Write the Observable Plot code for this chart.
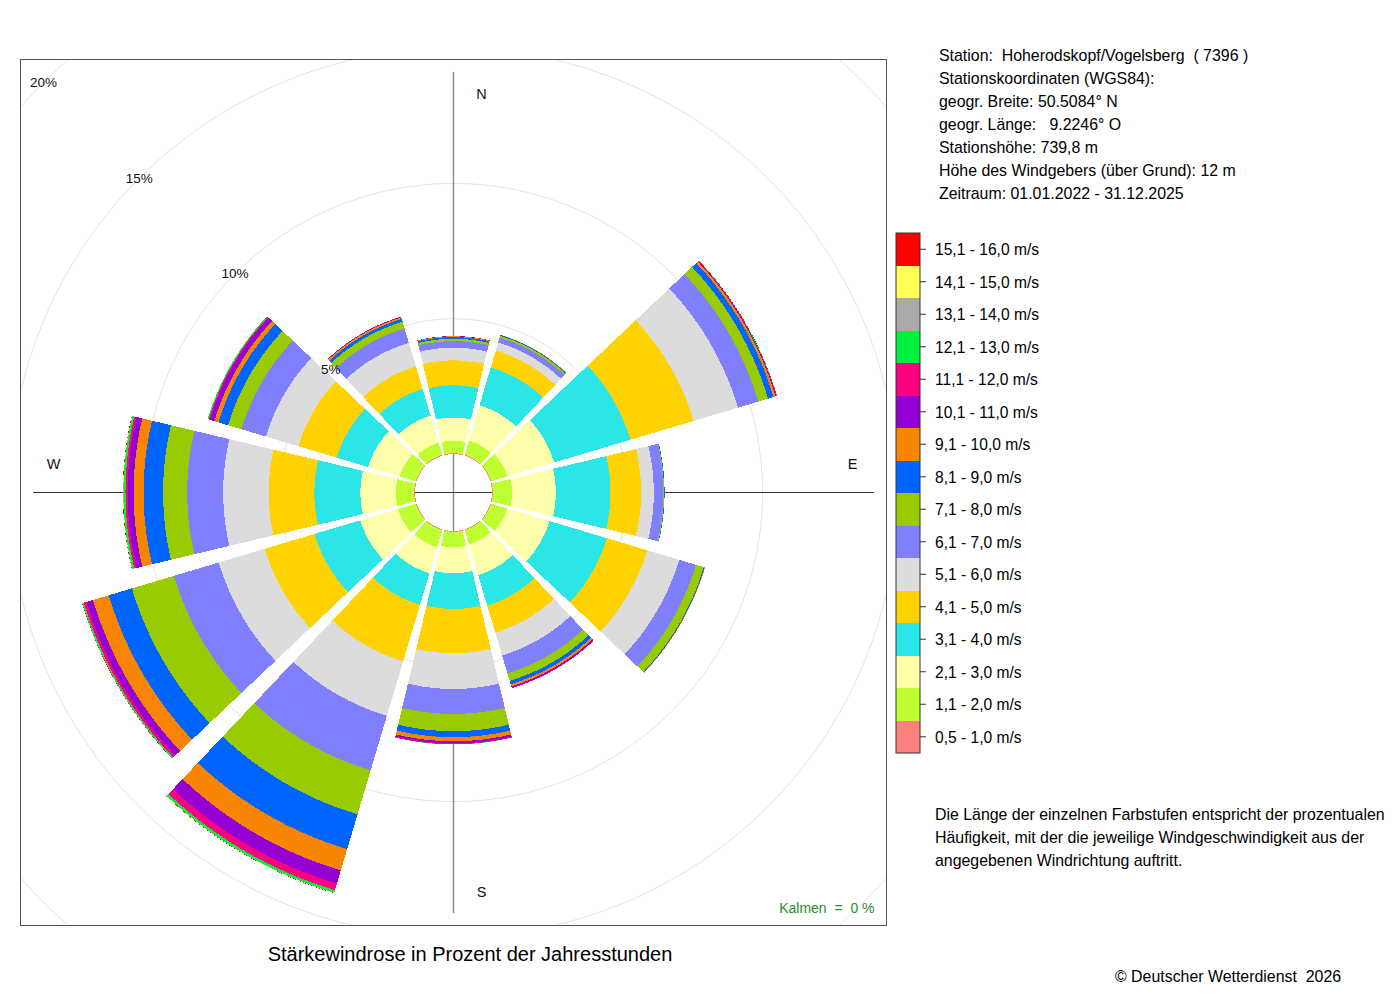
<!DOCTYPE html>
<html>
<head>
<meta charset="utf-8">
<script src="https://cdn.jsdelivr.net/npm/d3@7"></script>
<script src="https://cdn.jsdelivr.net/npm/@observablehq/plot@0.6"></script>
<style>
  body { margin: 0; background: #fff; font-family: "Liberation Sans", Arial, sans-serif; color: #000; }
  #wrap { position: relative; width: 1400px; height: 1000px; overflow: hidden; }
  #chart { position: absolute; left: 19px; top: 58px; }
  .info { position: absolute; left: 939px; top: 44px; font-size: 15.9px; line-height: 23px; white-space: pre; }
  #legend { position: absolute; left: 890px; top: 225.5px; }
  .note { position: absolute; left: 935px; top: 803px; font-size: 15.9px; line-height: 23px; white-space: pre; }
  .caption { position: absolute; left: 0; width: 940px; top: 943px; line-height: 23px; text-align: center; font-size: 20px; }
  .copy { position: absolute; left: 1115px; top: 967px; line-height: 20px; font-size: 15.9px; white-space: pre; }
</style>
</head>
<body>
<div id="wrap">
  <div id="chart"></div>
  <div class="info">Station:  Hoherodskopf/Vogelsberg  ( 7396 )
Stationskoordinaten (WGS84):
geogr. Breite: 50.5084° N
geogr. Länge:   9.2246° O
Stationshöhe: 739,8 m
Höhe des Windgebers (über Grund): 12 m
Zeitraum: 01.01.2022 - 31.12.2025</div>
  <div id="legend"></div>
  <div class="note">Die Länge der einzelnen Farbstufen entspricht der prozentualen
Häufigkeit, mit der die jeweilige Windgeschwindigkeit aus der
angegebenen Windrichtung auftritt.</div>
  <div class="caption">Stärkewindrose in Prozent der Jahresstunden</div>
  <div class="copy">© Deutscher Wetterdienst  2026</div>
</div>
<script>
// ---- data ----
const directions = [0, 30, 60, 90, 120, 150, 180, 210, 240, 270, 300, 330];
const directionLabels = ["N", "E", "S", "W"];
const speedClasses = [
  "0,5 - 1,0 m/s", "1,1 - 2,0 m/s", "2,1 - 3,0 m/s", "3,1 - 4,0 m/s",
  "4,1 - 5,0 m/s", "5,1 - 6,0 m/s", "6,1 - 7,0 m/s", "7,1 - 8,0 m/s",
  "8,1 - 9,0 m/s", "9,1 - 10,0 m/s", "10,1 - 11,0 m/s", "11,1 - 12,0 m/s",
  "12,1 - 13,0 m/s", "13,1 - 14,0 m/s", "14,1 - 15,0 m/s", "15,1 - 16,0 m/s"
];
const speedColors = [
  "#FF8080", "#BEFF32", "#FFFFAA", "#2AE6E6", "#FFD200", "#DCDCDC", "#8080FF", "#99CC00",
  "#0064FF", "#F78500", "#9400D3", "#FF0080", "#00F040", "#AAAAAA", "#FFFF55", "#FF0000"
];
// percentage of hours per speed class (lowest class first), one array per direction sector
const sector000 = [0.03, 0.46, 0.86, 1.19, 0.92, 0.47, 0.24, 0.09, 0.06, 0.03, 0.01, 0, 0, 0, 0, 0];
const sector030 = [0.03, 0.55, 1.36, 1.46, 0.65, 0.31, 0.19, 0.07, 0.03, 0.01, 0, 0, 0, 0, 0, 0];
const sector060 = [0.03, 0.62, 1.81, 2.94, 2.44, 1.71, 0.78, 0.38, 0.21, 0.08, 0.02, 0.02, 0.01, 0, 0, 0.01];
const sector090 = [0.03, 0.71, 1.62, 2.02, 1.13, 0.47, 0.35, 0.03, 0.02, 0, 0, 0, 0, 0, 0, 0];
const sector120 = [0.03, 0.62, 1.63, 2.21, 1.56, 1.23, 0.65, 0.30, 0.03, 0.02, 0, 0, 0, 0, 0, 0];
const sector150 = [0.03, 0.55, 1.18, 1.18, 1.04, 0.88, 0.69, 0.29, 0.13, 0.08, 0.05, 0.02, 0, 0, 0, 0];
const sector180 = [0.03, 0.57, 0.96, 1.32, 1.64, 1.32, 0.92, 0.64, 0.22, 0.15, 0.08, 0.03, 0.01, 0, 0, 0];
const sector210 = [0.03, 0.66, 1.00, 1.22, 2.18, 2.10, 2.10, 1.70, 1.34, 0.82, 0.51, 0.25, 0.09, 0.01, 0.01, 0.01];
const sector240 = [0.03, 0.69, 1.45, 1.77, 1.92, 1.77, 1.73, 1.62, 0.89, 0.61, 0.25, 0.10, 0.05, 0.01, 0, 0.01];
const sector270 = [0.03, 0.68, 1.31, 1.70, 1.69, 1.68, 1.33, 0.89, 0.72, 0.37, 0.22, 0.08, 0.07, 0.01, 0.01, 0.01];
const sector300 = [0.03, 0.62, 1.22, 1.21, 1.48, 1.25, 0.94, 0.52, 0.37, 0.16, 0.17, 0.05, 0.04, 0, 0, 0];
const sector330 = [0.03, 0.47, 1.04, 1.03, 0.87, 0.91, 0.55, 0.26, 0.11, 0.06, 0.02, 0.01, 0, 0, 0, 0];
const gridPercents = [5, 10, 15, 20];
const calmPercent = 0;

// ---- geometry helpers (polar via azimuthal-equidistant projection around the pole) ----
const sectorValues = [sector000, sector030, sector060, sector090, sector120, sector150,
                      sector180, sector210, sector240, sector270, sector300, sector330];
const HOLE = 1.42;        // radial offset of 0 % (inner hole)
const HALF = 13.4;        // half angular width of a sector, degrees
const FRAME_R = 16;       // radial units from centre to frame edge
const AXIS_R = 15.52;     // length of the cross lines
const lon = bearing => 180 - bearing;
const lat = r => 90 - r;

function wedge(bearing, r0, r1) {
  const n = 48, pts = [];
  for (let j = 0; j <= n; j++) { const a = bearing - HALF + 2 * HALF * j / n; pts.push([lon(a), lat(r1)]); }
  for (let j = n; j >= 0; j--) { const a = bearing - HALF + 2 * HALF * j / n; pts.push([lon(a), lat(r0)]); }
  pts.push(pts[0]);
  let g = {type: "Polygon", coordinates: [pts]};
  if (d3.geoArea(g) > 2 * Math.PI) g = {type: "Polygon", coordinates: [pts.slice().reverse()]};
  return g;
}

const bands = [];
directions.forEach((dir, i) => {
  let cum = 0;
  sectorValues[i].forEach((v, k) => {
    if (v > 0) {
      bands.push({dir, cls: speedClasses[k], geometry: wedge(dir, HOLE + cum, HOLE + cum + v)});
      cum += v;
    }
  });
});

const axes = [
  {type: "LineString", coordinates: [[lon(0), lat(AXIS_R)], [0, 90], [lon(180), lat(AXIS_R)]], stroke: "#8a8a8a", w: 1.4},
  {type: "LineString", coordinates: [[lon(90), lat(AXIS_R)], [0, 90], [lon(270), lat(AXIS_R)]], stroke: "#333", w: 1}
];

const labelStyle = {text: d => d, fontSize: 14.5, fill: "#111", textAnchor: "middle", lineAnchor: "middle"};

const chart = Plot.plot({
  width: 868,
  height: 868,
  margin: 1,
  style: {fontFamily: "'Liberation Sans', Arial, sans-serif", background: "transparent"},
  projection: {
    type: "azimuthal-equidistant",
    rotate: [0, -90],
    domain: d3.geoCircle().center([0, 90]).radius(FRAME_R).precision(1)()
  },
  color: {type: "ordinal", domain: speedClasses, range: speedColors},
  marks: [
    Plot.geo(gridPercents, {
      geometry: p => d3.geoCircle().center([0, 90]).radius(HOLE + p).precision(0.5)(),
      stroke: "#e2e2e2", strokeWidth: 1, fill: "none", clip: "frame"
    }),
    Plot.geo(axes, {geometry: d => d, stroke: d => d.stroke, strokeWidth: d => d.w, fill: "none"}),
    Plot.geo(bands, {geometry: d => d.geometry, fill: "cls", stroke: "none", shapeRendering: "crispEdges"}),
    Plot.text(gridPercents, {
      x: () => lon(315), y: p => lat(HOLE + p), text: p => p + "%",
      fontSize: 13.5, fill: "#111", textAnchor: "middle", lineAnchor: "middle"
    }),
    Plot.text([directionLabels[0]], {...labelStyle, frameAnchor: "top", dx: 28, dy: 35}),
    Plot.text([directionLabels[1]], {...labelStyle, frameAnchor: "right", dx: -34, dy: -28}),
    Plot.text([directionLabels[2]], {...labelStyle, frameAnchor: "bottom", dx: 28, dy: -33}),
    Plot.text([directionLabels[3]], {...labelStyle, frameAnchor: "left", dx: 33, dy: -28}),
    Plot.text([`Kalmen  =  ${calmPercent} %`], {
      frameAnchor: "bottom-right", dx: -12, dy: -17, textAnchor: "end", lineAnchor: "middle",
      text: d => d, fontSize: 14, fill: "#2e8b2e"
    }),
    Plot.frame({stroke: "#555", strokeWidth: 1})
  ]
});
document.getElementById("chart").append(chart);

// ---- legend ----
const boxH = 32.5, boxW = 24, bx = 6, by = 7;
const lsvg = d3.select("#legend").append("svg")
  .attr("width", 220).attr("height", 16 * boxH + 20)
  .style("font-family", "'Liberation Sans', Arial, sans-serif");
const order = d3.range(speedClasses.length).reverse();
order.forEach((k, i) => {
  const y = by + i * boxH;
  lsvg.append("rect").attr("x", bx).attr("y", y).attr("width", boxW).attr("height", boxH)
    .attr("fill", speedColors[k]).attr("shape-rendering", "crispEdges");
  lsvg.append("line").attr("x1", bx + boxW).attr("x2", bx + boxW + 6)
    .attr("y1", y + boxH / 2).attr("y2", y + boxH / 2).attr("stroke", "#333");
  lsvg.append("text").attr("x", 45).attr("y", y + boxH / 2 + 0.5).attr("dy", "0.35em")
    .attr("font-size", 15.6).text(speedClasses[k]);
});
lsvg.append("rect").attr("x", bx).attr("y", by).attr("width", boxW).attr("height", 16 * boxH)
  .attr("fill", "none").attr("stroke", "#333").attr("stroke-width", 1);
</script>
</body>
</html>
